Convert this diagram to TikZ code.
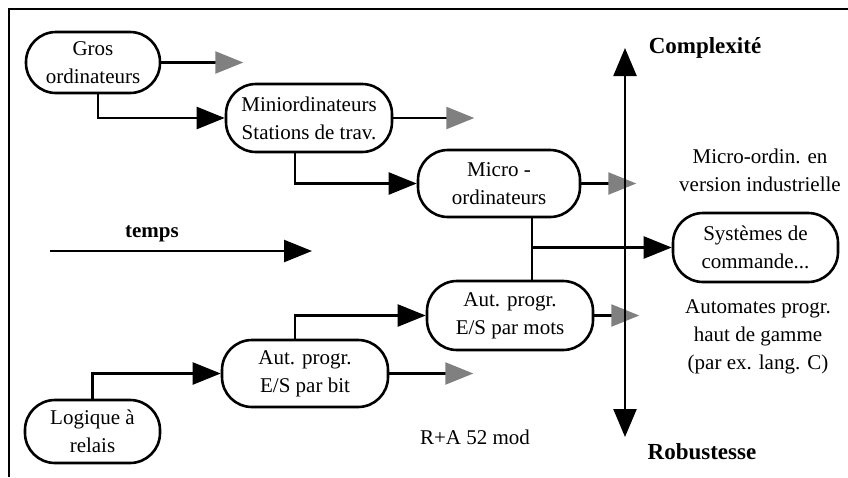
\documentclass[tikz,border=0pt]{standalone}
\usepackage{fontspec}
\setmainfont{Liberation Serif}
\usetikzlibrary{arrows.meta}
\begin{document}
\begin{tikzpicture}[x=1pt,y=-1pt,
  line width=2.4pt,
  every node/.style={font=\fontsize{21}{28}\selectfont, inner sep=0pt},
  box/.style={draw, rounded corners=30pt, align=center, line width=2.6pt},
  blk/.style={-{Triangle[length=28pt,width=22pt]}},
  gry/.style={-{Triangle[length=28pt,width=22pt,color=black!50]}},
  axislabel/.style={font=\fontsize{23}{28}\selectfont\bfseries},
  note/.style={align=center}
]
\useasboundingbox (0,0) rectangle (848,477);

% frame
\draw[line width=2.6pt] (9,477) -- (9,9) -- (848,9);

% technology boxes
\node[box, minimum width=134pt, minimum height=61pt] (gros) at (93,62.5) {Gros\\ordinateurs};
\node[box, minimum width=166pt, minimum height=68pt] (mini) at (309,118) {Miniordinateurs\\Stations de trav.};
\node[box, minimum width=162pt, minimum height=67pt] (micro) at (499,183.5) {Micro -\\ordinateurs};
\node[box, minimum width=166pt, minimum height=69pt] (amots) at (510,315.5) {Aut. progr.\\E/S par mots};
\node[box, minimum width=166pt, minimum height=67pt] (abit) at (305,373.5) {Aut. progr.\\E/S par bit};
\node[box, minimum width=135pt, minimum height=63pt] (relais) at (92.5,431.5) {Logique à\\relais};
\node[box, minimum width=165pt, minimum height=69pt] (sys) at (755.5,247.5) {Systèmes de\\commande...};

% free labels
\node[note] (mindus) at (760,170) {Micro-ordin. en\\version industrielle};
\node[note] (auth) at (758,337) {Automates progr.\\haut de gamme\\(par ex. lang. C)};
\node[anchor=base] (ra) at (475,444) {R+A 52 mod};
\node[axislabel, anchor=base] (cplx) at (705,53) {Complexité};
\node[axislabel, anchor=base] (rob) at (702,459) {Robustesse};
\node[font=\fontsize{21}{28}\selectfont\bfseries, anchor=base] (temps) at (152,237) {temps};

% evolution links
\draw[blk] ([xshift=5pt]gros.south) |- (mini.west);
\draw[blk] ([xshift=-14pt]mini.south) |- (micro.west);
\draw[blk] (relais.north) |- (abit.west);
\draw[blk] ([xshift=-10pt]abit.north) |- (amots.west);

% outgoing trends
\draw[gry] (gros.east) -- ++(82,0);
\draw[gry] (mini.east) -- ++(81,0);
\draw[gry] (micro.east) -- ++(55,0);
\draw[gry] (amots.east) -- ++(45,0);
\draw[gry] (abit.east) -- ++(84,0);

% merge towards control systems
\coordinate (j) at (532,247.5);
\draw (micro.south -| j) -- (amots.north -| j);
\draw[blk] (j) -- (sys.west);

% time arrow
\coordinate (t0) at (50,251);
\coordinate (t1) at (312,251);
\draw[blk] (t0) -- (t1);

% complexity / robustness axis
\coordinate (ax0) at (625,48);
\coordinate (ax1) at (625,437);
\draw[{Triangle[length=28pt,width=23pt]}-{Triangle[length=28pt,width=23pt]}] (ax0) -- (ax1);
\end{tikzpicture}
\end{document}
